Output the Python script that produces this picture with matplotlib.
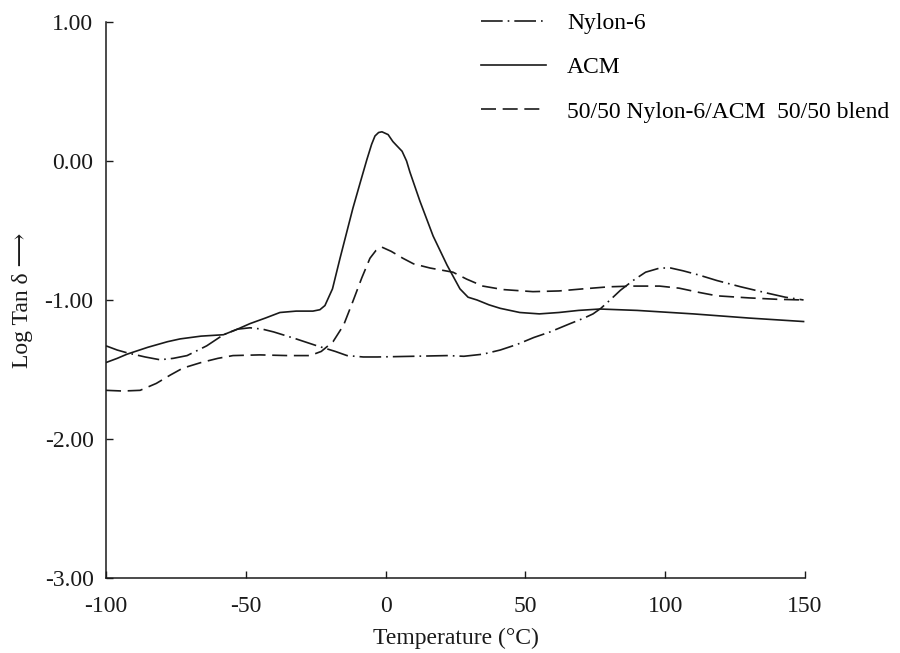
import matplotlib.pyplot as plt

plt.rcParams["font.family"] = ["Liberation Serif", "DejaVu Serif"]
plt.rcParams["axes.unicode_minus"] = False

# Nylon-6 (dash-dot)
nylon_t = [-100, -96, -92.5, -86, -80.7, -76, -71, -64, -58, -53, -48.5, -44, -40, -32,
           -24.5, -18, -13.8, -8, -3, 10, 22, 28, 34.8, 41, 47, 53, 58.8, 66, 71, 74.2,
           77, 80.3, 84, 88.5, 93, 98.1, 102, 106.4, 112, 118.5, 127, 136.4, 143, 149.5]
nylon_y = [-1.33, -1.36, -1.38, -1.41, -1.43, -1.42, -1.40, -1.33, -1.25, -1.21, -1.20,
           -1.21, -1.23, -1.28, -1.33, -1.37, -1.40, -1.41, -1.41, -1.405, -1.40, -1.405,
           -1.39, -1.36, -1.32, -1.27, -1.23, -1.17, -1.13, -1.10, -1.06, -1.00, -0.93,
           -0.86, -0.80, -0.77, -0.77, -0.79, -0.82, -0.86, -0.905, -0.95, -0.98, -1.00]

# ACM (solid)
acm_t = [-100, -96, -92.5, -85, -78, -73.5, -66, -58, -53, -48.5, -43, -37.8, -32, -26,
         -23.5, -21.7, -19, -16.3, -14, -11.7, -9, -6.7, -5, -3.8, -2.5, -1.3, 0.9, 2.6,
         4, 5.9, 7.5, 8.7, 12.3, 17, 22, 26.6, 29.5, 32.7, 37, 41, 48, 55, 62, 69, 76.7,
         90, 110, 130, 149.5]
acm_y = [-1.45, -1.42, -1.39, -1.34, -1.30, -1.28, -1.26, -1.25, -1.21, -1.17, -1.13,
         -1.09, -1.08, -1.08, -1.07, -1.04, -0.92, -0.70, -0.52, -0.34, -0.15, 0.01, 0.12,
         0.18, 0.205, 0.21, 0.19, 0.14, 0.11, 0.07, 0.0, -0.08, -0.29, -0.54, -0.75,
         -0.92, -0.98, -1.00, -1.035, -1.06, -1.09, -1.10, -1.09, -1.075, -1.065, -1.075,
         -1.10, -1.13, -1.155]

# 50/50 blend (dashed)
blend_t = [-100, -94, -87.8, -82, -77, -72.5, -66, -60, -54.6, -45, -35, -27, -23, -18.8,
           -15, -11.7, -8.5, -5.6, -3.5, -1.3, 2, 6.2, 10, 15.9, 24.1, 29, 34.8, 42, 52.7,
           62, 70.6, 80, 88.5, 98, 105, 112, 118.5, 130, 140, 149.5]
blend_y = [-1.65, -1.655, -1.65, -1.60, -1.54, -1.49, -1.45, -1.42, -1.40, -1.395, -1.40,
           -1.40, -1.37, -1.30, -1.18, -1.01, -0.84, -0.70, -0.645, -0.62, -0.65, -0.70,
           -0.74, -0.77, -0.80, -0.85, -0.90, -0.925, -0.94, -0.935, -0.92, -0.905, -0.90,
           -0.90, -0.915, -0.945, -0.97, -0.985, -0.995, -1.00]

fig = plt.figure(figsize=(9, 6.53), dpi=100)
ax = fig.add_axes([0.1178, 0.1149, 0.7766, 0.8514])

ink = "#1a1a1a"
ax.plot(nylon_t, nylon_y, color=ink, lw=1.2, dashes=(13, 3, 1, 3), label="Nylon-6")
ax.plot(acm_t, acm_y, color=ink, lw=1.2, label="ACM")
ax.plot(blend_t, blend_y, color=ink, lw=1.2, dashes=(9, 4),
        label="50/50 Nylon-6/ACM  50/50 blend")

ax.set_xlim(-100, 150)
ax.set_ylim(-3, 1)
ax.set_xticks([-100, -50, 0, 50, 100, 150])
ax.set_yticks([1, 0, -1, -2, -3])
ax.set_yticklabels(["1.00", "0.00", "-1.00", "-2.00", "-3.00"])
ax.tick_params(direction="in", length=5, width=1, labelsize=17, colors=ink)
ax.tick_params(axis="x", pad=13)
ax.tick_params(axis="y", pad=9)
for s in ["top", "right"]:
    ax.spines[s].set_visible(False)
for s in ["left", "bottom"]:
    ax.spines[s].set_color(ink)
    ax.spines[s].set_linewidth(1.1)

ax.set_xlabel("Temperature (°C)", fontsize=17, color=ink, labelpad=8)
ax.set_ylabel("Log Tan δ \u27f6", fontsize=17, color=ink, labelpad=8)

ax.legend(loc="upper left", bbox_to_anchor=(0.506, 1.055), frameon=False, fontsize=17,
          handlelength=2.75, handletextpad=0.9, labelspacing=0.96)

fig.savefig("out.png", dpi=100)
